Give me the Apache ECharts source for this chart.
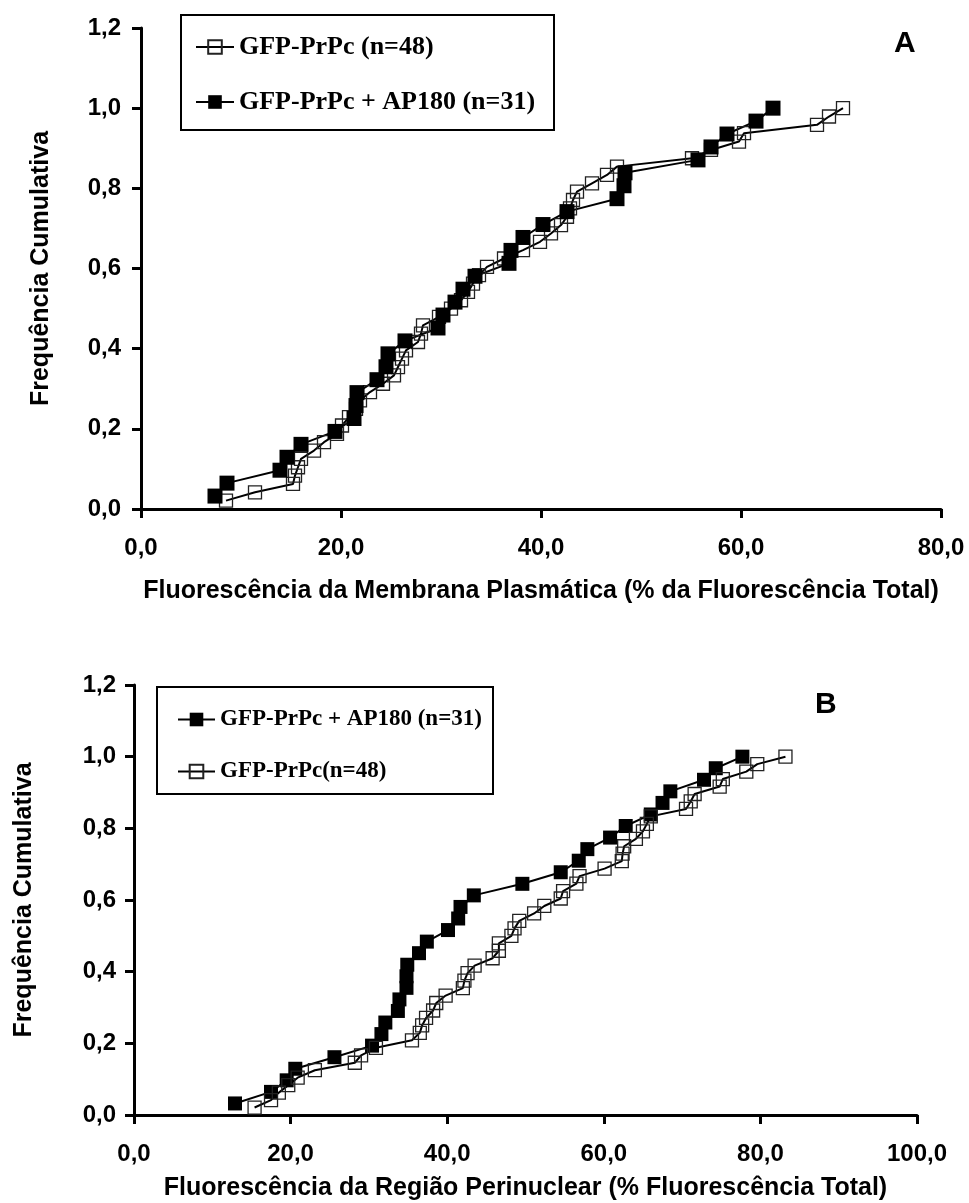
<!DOCTYPE html>
<html>
<head>
<meta charset="utf-8">
<script src="https://cdn.jsdelivr.net/npm/echarts@6/dist/echarts.min.js"></script>
<style>
html,body{margin:0;padding:0;background:#fff;}
#chart{width:969px;height:1203px;}
</style>
</head>
<body>
<div id="chart"></div>
<script>
// ---- Panel A: Fluorescência da Membrana Plasmática ----
const aOpenName = 'GFP-PrPc (n=48)';
const aFilledName = 'GFP-PrPc + AP180 (n=31)';
const aOpenX = [8.5, 11.4, 15.2, 15.4, 15.7, 16.0, 17.3, 18.3, 19.6, 20.1, 20.8, 21.5,
  21.9, 22.9, 24.2, 25.3, 25.7, 26.1, 26.5, 27.7, 28.0, 28.2, 29.8, 31.0, 32.0, 32.7,
  33.2, 33.8, 34.6, 36.3, 38.2, 39.9, 41.0, 42.0, 42.6, 42.9, 43.2, 43.6, 45.1, 46.6,
  47.6, 55.1, 57.0, 59.8, 60.3, 67.6, 68.8, 70.2];
const aFilledX = [7.4, 8.6, 13.9, 14.6, 16.0, 19.4, 21.3, 21.5, 21.6, 23.6, 24.5, 24.7,
  26.4, 29.7, 30.2, 31.4, 32.2, 33.4, 36.8, 37.0, 38.2, 40.2, 42.6, 47.6, 48.3, 48.4,
  55.7, 57.0, 58.6, 61.5, 63.2];

// ---- Panel B: Fluorescência da Região Perinuclear ----
const bFilledName = 'GFP-PrPc + AP180 (n=31)';
const bOpenName = 'GFP-PrPc(n=48)';
const bFilledX = [12.9, 17.5, 19.5, 20.6, 25.6, 30.4, 31.6, 32.1, 33.7, 33.9, 34.8, 34.8,
  34.9, 36.4, 37.4, 40.1, 41.4, 41.7, 43.4, 49.6, 54.5, 56.8, 57.9, 60.8, 62.8, 66.0,
  67.5, 68.5, 72.8, 74.3, 77.7];
const bOpenX = [15.4, 17.5, 18.5, 19.7, 20.9, 23.1, 28.2, 29.0, 30.9, 35.5, 36.5, 36.8,
  37.3, 38.2, 38.6, 39.8, 42.0, 42.2, 42.6, 43.5, 45.8, 46.6, 46.6, 48.2, 48.6, 49.2,
  51.1, 52.4, 54.5, 54.8, 56.5, 56.9, 60.1, 62.3, 62.4, 62.6, 64.1, 65.0, 65.5, 66.0,
  70.5, 71.1, 71.6, 74.8, 75.2, 78.2, 79.6, 83.2];

// tick settings
const yTicks = {min: 0, max: 1.2, interval: 0.2};
const xTicksA = {min: 0, max: 80, interval: 20};
const xTicksB = {min: 0, max: 100, interval: 20};

const labelA = 'A';
const labelB = 'B';
const xNameA = 'Fluorescência da Membrana Plasmática (% da Fluorescência Total)';
const xNameB = 'Fluorescência da Região Perinuclear (% Fluorescência Total)';
const yName = 'Frequência Cumulativa';

// cumulative frequency: k/n for k = 1..n
function cumulative(xs) {
  const n = xs.length;
  return xs.map((x, i) => [x, (i + 1) / n]);
}

const fmt = v => v.toFixed(1).replace('.', ',');
const sans = '"Liberation Sans", Arial, sans-serif';
const serif = '"Liberation Serif", "Times New Roman", serif';

function xAxis(idx, t, name, gap) {
  return {
    type: 'value', gridIndex: idx, min: t.min, max: t.max, interval: t.interval,
    name: name, nameLocation: 'middle', nameGap: gap,
    nameTextStyle: {fontFamily: sans, fontWeight: 'bold', fontSize: 25, color: '#000'},
    axisLine: {show: true, lineStyle: {color: '#000', width: 3}},
    axisTick: {show: true, length: 9, lineStyle: {color: '#000', width: 3}},
    axisLabel: {formatter: fmt, fontFamily: sans, fontWeight: 'bold', fontSize: 24, color: '#000', margin: 27},
    splitLine: {show: false}
  };
}
function yAxis(idx, gap, margin) {
  return {
    type: 'value', gridIndex: idx, min: yTicks.min, max: yTicks.max, interval: yTicks.interval,
    name: yName, nameLocation: 'middle', nameGap: gap,
    nameTextStyle: {fontFamily: sans, fontWeight: 'bold', fontSize: 25, color: '#000'},
    axisLine: {show: true, lineStyle: {color: '#000', width: 3}},
    axisTick: {show: true, length: 9, lineStyle: {color: '#000', width: 3}},
    axisLabel: {formatter: fmt, fontFamily: sans, fontWeight: 'bold', fontSize: 24, color: '#000', margin: margin},
    splitLine: {show: false}
  };
}
function openSeries(name, idx, xs, size) {
  return {
    name: name, type: 'line', xAxisIndex: idx, yAxisIndex: idx,
    data: cumulative(xs), symbol: 'rect', symbolSize: size,
    itemStyle: {color: 'rgba(255,255,255,0)', borderColor: '#222', borderWidth: 1.3},
    lineStyle: {color: '#000', width: 2},
    emphasis: {disabled: true}, animation: false
  };
}
function filledSeries(name, idx, xs, size) {
  return {
    name: name, type: 'line', xAxisIndex: idx, yAxisIndex: idx,
    data: cumulative(xs), symbol: 'rect', symbolSize: size,
    itemStyle: {color: '#000', borderColor: '#000', borderWidth: 0},
    lineStyle: {color: '#000', width: 2},
    emphasis: {disabled: true}, animation: false
  };
}

const chart = echarts.init(document.getElementById('chart'), null, {renderer: 'canvas'});
chart.setOption({
  backgroundColor: '#fff',
  animation: false,
  grid: [
    {left: 141, top: 28, width: 800, height: 481},
    {left: 134, top: 685, width: 783, height: 430}
  ],
  xAxis: [xAxis(0, xTicksA, xNameA, 70), xAxis(1, xTicksB, xNameB, 61)],
  yAxis: [yAxis(0, 87, 20), yAxis(1, 97, 18)],
  legend: [
    {orient: 'vertical', left: 190, top: 29, itemWidth: 38, itemHeight: 17, itemGap: 29,
     textStyle: {fontFamily: serif, fontWeight: 'bold', fontSize: 26, color: '#000'},
     selectedMode: false, data: [aOpenName, aFilledName]},
    {orient: 'vertical', left: 172, top: 703, itemWidth: 37, itemHeight: 17, itemGap: 29,
     textStyle: {fontFamily: serif, fontWeight: 'bold', fontSize: 23, color: '#000'},
     selectedMode: false, data: [bFilledName, bOpenName]}
  ],
  graphic: [
    {type: 'rect', shape: {x: 181, y: 15, width: 373, height: 115}, style: {fill: 'none', stroke: '#000', lineWidth: 2}},
    {type: 'rect', shape: {x: 157, y: 687, width: 336, height: 107}, style: {fill: 'none', stroke: '#000', lineWidth: 2}},
    {type: 'text', left: 894, top: 29, style: {text: labelA, font: 'bold 30px ' + sans, fill: '#000'}},
    {type: 'text', left: 815, top: 690, style: {text: labelB, font: 'bold 30px ' + sans, fill: '#000'}}
  ],
  series: [
    openSeries(aOpenName, 0, aOpenX, 13),
    filledSeries(aFilledName, 0, aFilledX, 15),
    filledSeries(bFilledName, 1, bFilledX, 14),
    openSeries(bOpenName, 1, bOpenX, 13)
  ]
});
</script>
</body>
</html>
